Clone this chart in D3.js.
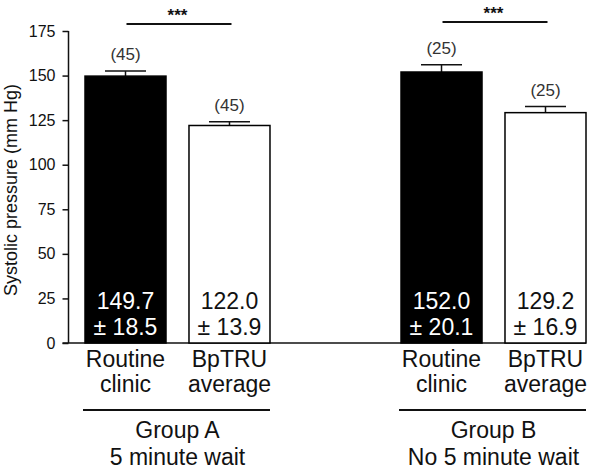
<!DOCTYPE html>
<html lang="en">
<head>
    <meta charset="UTF-8">
    <title>Systolic pressure</title>
    <script src="https://d3js.org/d3.v7.min.js"></script>
    <style>
        body { margin: 0; background: #fff; }
        text { font-family: "Liberation Sans", Arial, sans-serif; fill: #111; }
        .axis path, .axis line { stroke: #111; stroke-width: 1.5px; }
        .axis text { font-size: 16px; }
    </style>
</head>
<body>
    <svg id="chart"></svg>

    <script>
        // data
        var groups = ["Group A", "Group B"];
        var groupNotes = ["5 minute wait", "No 5 minute wait"];
        var categories = ["Routine clinic", "BpTRU average"];
        var categoryLines = [["Routine", "clinic"], ["BpTRU", "average"]];
        var means = [149.7, 122.0, 152.0, 129.2];
        var sds = [18.5, 13.9, 20.1, 16.9];
        var errors = [2.8, 2.1, 4.0, 3.4];
        var counts = [45, 45, 25, 25];
        var stars = ["***", "***"];
        var yTicks = [0, 25, 50, 75, 100, 125, 150, 175];

        var width = 600, height = 469;

        var svg = d3.select("#chart")
            .attr("width", width)
            .attr("height", height);

        var bars = [];
        groups.forEach(function(g, gi) {
            categories.forEach(function(c, ci) {
                var i = gi * categories.length + ci;
                bars.push({ group: g, cat: c, ci: ci, mean: means[i], sd: sds[i], err: errors[i], n: counts[i] });
            });
        });

        // scales
        var y = d3.scaleLinear().domain([0, 175]).range([343, 31]);

        var x0 = d3.scaleBand()
            .domain(groups)
            .range([85, 586])
            .paddingInner(0.4146)
            .paddingOuter(0);

        var x1 = d3.scaleBand()
            .domain(categories)
            .range([0, x0.bandwidth()])
            .paddingInner(0.221)
            .paddingOuter(0);

        function barX(d) { return x0(d.group) + x1(d.cat); }
        function barMid(d) { return barX(d) + x1.bandwidth() / 2; }

        // y axis
        var yAxis = svg.append("g")
            .attr("class", "axis")
            .attr("transform", "translate(68.5,0)")
            .call(d3.axisLeft(y).tickValues(yTicks).tickSize(6).tickSizeOuter(0).tickPadding(7));
        yAxis.select(".domain").attr("d", "M0," + y(175) + "V" + y(0));

        // baseline
        svg.append("line")
            .attr("x1", 62.5).attr("x2", x0.range()[1])
            .attr("y1", y(0)).attr("y2", y(0))
            .attr("stroke", "#111").attr("stroke-width", 1.5);

        svg.append("text")
            .attr("transform", "translate(17," + ((y(0) + y(175)) / 2 + 3) + ") rotate(-90)")
            .attr("text-anchor", "middle")
            .style("font-size", "18px")
            .text("Systolic pressure (mm Hg)");

        // error bars (drawn under bars)
        var eb = svg.selectAll(".err").data(bars).enter().append("g").attr("class", "err");
        eb.append("line")
            .attr("x1", barMid).attr("x2", barMid)
            .attr("y1", function(d) { return y(d.mean); })
            .attr("y2", function(d) { return y(d.mean + d.err); })
            .attr("stroke", "#111").attr("stroke-width", 1.5);
        eb.append("line")
            .attr("x1", function(d) { return barMid(d) - 20.5; })
            .attr("x2", function(d) { return barMid(d) + 20.5; })
            .attr("y1", function(d) { return y(d.mean + d.err); })
            .attr("y2", function(d) { return y(d.mean + d.err); })
            .attr("stroke", "#111").attr("stroke-width", 1.5);

        // bars
        svg.selectAll(".bar").data(bars).enter().append("rect")
            .attr("class", "bar")
            .attr("x", barX)
            .attr("width", x1.bandwidth())
            .attr("y", function(d) { return y(d.mean); })
            .attr("height", function(d) { return y(0) - y(d.mean); })
            .attr("fill", function(d) { return d.ci === 0 ? "#000" : "#fff"; })
            .attr("stroke", "#000")
            .attr("stroke-width", 1.5);

        // n labels
        svg.selectAll(".nlab").data(bars).enter().append("text")
            .attr("class", "nlab")
            .attr("x", barMid)
            .attr("y", function(d) { return y(d.mean + d.err) - 11; })
            .attr("text-anchor", "middle")
            .style("font-size", "17px")
            .style("fill", "#333")
            .text(function(d) { return "(" + d.n + ")"; });

        // mean ± sd inside bars
        var vl = svg.selectAll(".vlab").data(bars).enter().append("text")
            .attr("class", "vlab")
            .attr("text-anchor", "middle")
            .style("font-size", "23px")
            .style("fill", function(d) { return d.ci === 0 ? "#fff" : "#111"; });
        vl.append("tspan").attr("x", barMid).attr("y", 309)
            .text(function(d) { return d.mean.toFixed(1); });
        vl.append("tspan").attr("x", barMid).attr("y", 335)
            .text(function(d) { return "\u00b1 " + d.sd.toFixed(1); });

        // category labels
        var cl = svg.selectAll(".clab").data(bars).enter().append("text")
            .attr("class", "clab")
            .attr("text-anchor", "middle")
            .style("font-size", "23px");
        cl.append("tspan").attr("x", barMid).attr("y", 367)
            .text(function(d) { return categoryLines[d.ci][0]; });
        cl.append("tspan").attr("x", barMid).attr("y", 392)
            .text(function(d) { return categoryLines[d.ci][1]; });

        // group rules and labels
        var gl = svg.selectAll(".glab").data(groups).enter().append("g").attr("class", "glab");
        gl.append("line")
            .attr("x1", function(g) { return x0(g) - 2; })
            .attr("x2", function(g) { return x0(g) + x0.bandwidth(); })
            .attr("y1", 410).attr("y2", 410)
            .attr("stroke", "#111").attr("stroke-width", 2);
        var gt = gl.append("text")
            .attr("text-anchor", "middle")
            .style("font-size", "23px");
        gt.append("tspan")
            .attr("x", function(g) { return x0(g) + x0.bandwidth() / 2; })
            .attr("y", 438)
            .text(function(g) { return g; });
        gt.append("tspan")
            .attr("x", function(g) { return x0(g) + x0.bandwidth() / 2; })
            .attr("y", 465)
            .text(function(g, i) { return groupNotes[i]; });

        // significance brackets
        var sg = svg.selectAll(".sig").data(groups).enter().append("g").attr("class", "sig");
        sg.append("line")
            .attr("x1", function(g) { return x0(g) + x1(categories[0]) + x1.bandwidth() / 2 + 1; })
            .attr("x2", function(g) { return x0(g) + x1(categories[1]) + x1.bandwidth() / 2 + 2; })
            .attr("y1", function(g, i) { return i === 0 ? 24 : 22; })
            .attr("y2", function(g, i) { return i === 0 ? 24 : 22; })
            .attr("stroke", "#111").attr("stroke-width", 2);
        sg.append("text")
            .attr("x", function(g) { return x0(g) + x0.bandwidth() / 2; })
            .attr("y", function(g, i) { return i === 0 ? 21 : 19; })
            .attr("text-anchor", "middle")
            .style("font-size", "17px")
            .style("font-weight", "bold")
            .text(function(g, i) { return stars[i]; });
    </script>
</body>
</html>
